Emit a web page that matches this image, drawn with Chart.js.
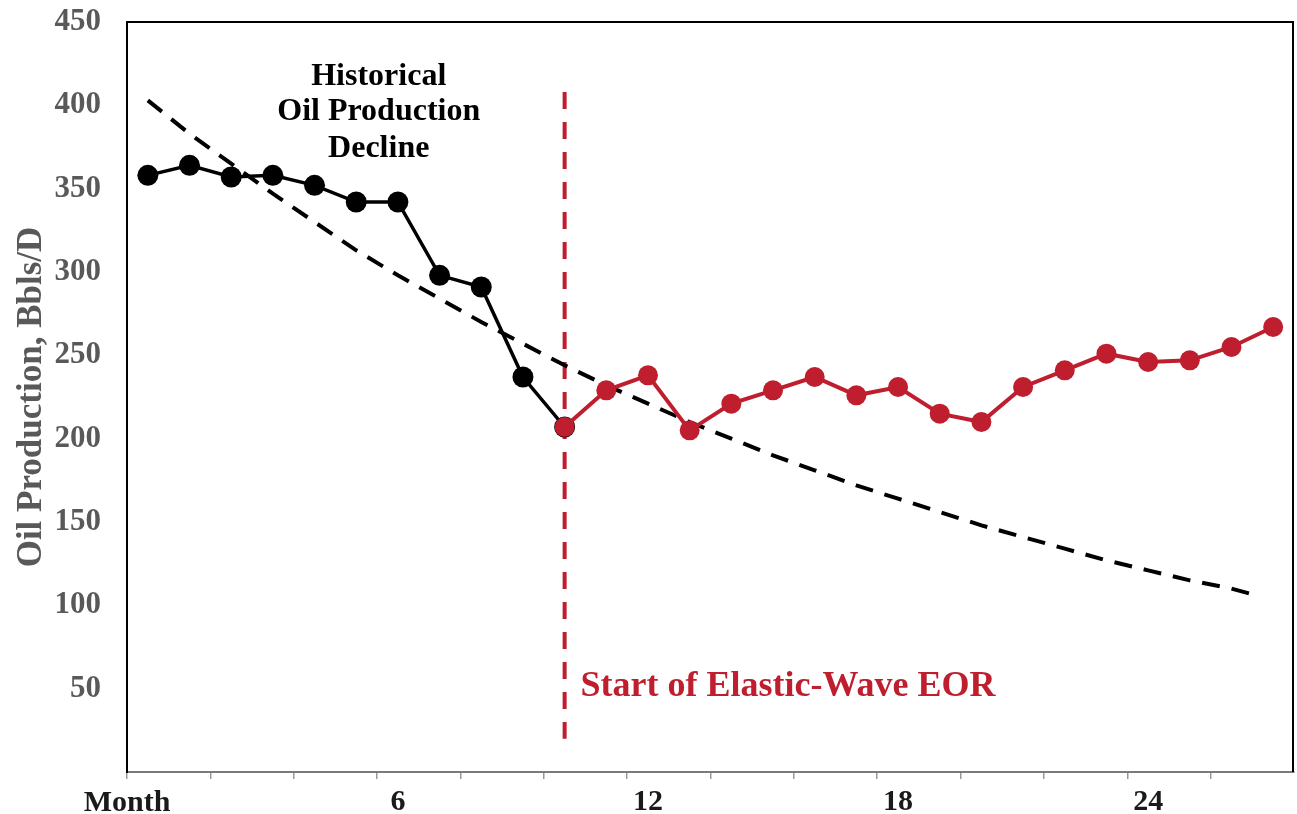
<!DOCTYPE html>
<html>
<head>
<meta charset="utf-8">
<script src="https://cdn.jsdelivr.net/npm/chart.js@4"></script>
<style>
  html, body { margin: 0; padding: 0; background: #fff; overflow: hidden; }
  canvas { display: block; }
</style>
</head>
<body>
<canvas id="oilChart" width="1297" height="814"></canvas>
<script>
// month index 0..27, only a few get a label
const monthLabels = ['', '', '', '', '', '', '6', '', '', '', '', '', '12', '', '',
    '', '', '', '18', '', '', '', '', '', '24', '', '', ''];

// historical production (month 0..10), last point is where EOR starts
const histMonths = [0, 1, 2, 3, 4, 5, 6, 7, 8, 9, 10];
const historical = [358, 364, 357, 358, 352, 342, 342, 298, 291, 237, 207];

// production after elastic-wave EOR started (month 10..27)
const eorMonths = [10, 11, 12, 13, 14, 15, 16, 17, 18, 19, 20, 21, 22, 23, 24, 25, 26, 27];
const eorValues = [207, 229, 238, 205, 221, 229, 237, 226, 231, 215, 210, 231, 241, 251, 246, 247, 255, 267];

// decline trend
const trendMonths = [0, 1, 2, 3, 4, 5, 6, 7, 8, 9, 10, 11, 12, 13, 14, 15, 16, 17, 18, 19, 20, 21, 22, 23, 24, 25, 26, 26.6];
const trendValues = [403, 383, 365, 347, 330, 313, 298, 284, 270, 257, 244, 232, 221, 210, 200, 190, 181, 172, 164, 156, 148, 141, 134, 127, 121, 115, 110, 106];

const eorStart = 10;
const RED = '#be1e2d';
const SERIF = '"Liberation Serif", "Times New Roman", serif';

const histPoints = histMonths.map((m, i) => ({ x: m, y: historical[i] }));
const eorPoints = eorMonths.map((m, i) => ({ x: m, y: eorValues[i] }));
const trendPoints = trendMonths.map((m, i) => ({ x: m, y: trendValues[i] }));

const decorations = {
    id: 'decorations',
    beforeDatasetsDraw(chart) {
        const { ctx, scales } = chart;
        const x = scales.xt, y = scales.y;
        ctx.save();
        // start of EOR marker
        const xs = x.getPixelForValue(eorStart);
        ctx.strokeStyle = RED;
        ctx.lineWidth = 4;
        ctx.setLineDash([17, 13]);
        ctx.beginPath();
        ctx.moveTo(xs, y.getPixelForValue(408));
        ctx.lineTo(xs, y.getPixelForValue(20));
        ctx.stroke();
        ctx.restore();
    },
    afterDraw(chart) {
        const { ctx, chartArea, scales } = chart;
        const x = scales.xt, y = scales.y;
        ctx.save();
        // frame: top, left, right black
        ctx.strokeStyle = '#000';
        ctx.lineWidth = 2;
        ctx.beginPath();
        ctx.moveTo(chartArea.left, chartArea.bottom);
        ctx.lineTo(chartArea.left, chartArea.top);
        ctx.lineTo(chartArea.right - 1, chartArea.top);
        ctx.lineTo(chartArea.right - 1, chartArea.bottom);
        ctx.stroke();

        ctx.textAlign = 'center';
        ctx.textBaseline = 'middle';
        ctx.fillStyle = '#000';
        ctx.font = 'bold 32px ' + SERIF;
        const cx = x.getPixelForValue(5.54);
        ctx.fillText('Historical', cx, y.getPixelForValue(417));
        ctx.fillText('Oil Production', cx, y.getPixelForValue(396));
        ctx.fillText('Decline', cx, y.getPixelForValue(374));

        ctx.textAlign = 'left';
        ctx.fillStyle = RED;
        ctx.font = 'bold 36px ' + SERIF;
        ctx.fillText('Start of Elastic-Wave EOR', x.getPixelForValue(10.38), y.getPixelForValue(51));

        ctx.textAlign = 'center';
        ctx.fillStyle = '#1a1a1a';
        ctx.font = 'bold 30px ' + SERIF;
        ctx.fillText('Month', chartArea.left, chartArea.bottom + 31);
        ctx.restore();
    }
};

new Chart(document.getElementById('oilChart'), {
    type: 'line',
    data: {
        labels: monthLabels,
        datasets: [
            {
                label: 'After EOR',
                data: eorPoints,
                xAxisID: 'xt',
                borderColor: RED,
                backgroundColor: RED,
                borderWidth: 4,
                pointRadius: 10,
                pointHoverRadius: 10,
                pointBorderWidth: 0,
                order: 1
            },
            {
                label: 'Historical',
                data: histPoints,
                xAxisID: 'xt',
                borderColor: '#000',
                backgroundColor: '#000',
                borderWidth: 3.5,
                pointRadius: 10.5,
                pointHoverRadius: 10.5,
                pointBorderWidth: 0,
                order: 2
            },
            {
                label: 'Decline trend',
                data: trendPoints,
                xAxisID: 'xt',
                borderColor: '#000',
                borderWidth: 4,
                borderDash: [18, 12],
                pointRadius: 0,
                order: 3
            }
        ]
    },
    options: {
        responsive: false,
        animation: false,
        devicePixelRatio: 1,
        layout: { autoPadding: false, padding: { top: 22, right: 3, left: 0, bottom: 0 } },
        plugins: {
            legend: { display: false },
            tooltip: { enabled: false }
        },
        scales: {
            x: {
                type: 'category',
                offset: true,
                grid: {
                    display: true,
                    drawOnChartArea: false,
                    offset: true,
                    tickLength: 7,
                    lineWidth: 1.5,
                    color: c => (c.index % 2 === 0 ? '#9a9a9a' : 'rgba(0,0,0,0)')
                },
                border: { display: true, color: '#7a7a7a', width: 2 },
                ticks: {
                    autoSkip: false,
                    maxRotation: 0,
                    padding: 5,
                    color: '#1a1a1a',
                    font: { family: SERIF, size: 30, weight: 'bold' }
                },
                afterFit(scale) {
                    scale.height = 42;
                    scale.paddingLeft = 0;
                    scale.paddingRight = 0;
                }
            },
            xt: {
                type: 'linear',
                display: false,
                min: -0.5,
                max: 27.5
            },
            y: {
                min: 0,
                max: 450,
                grid: { display: false, drawTicks: false },
                border: { display: true, color: '#000', width: 2 },
                ticks: {
                    stepSize: 50,
                    padding: 26,
                    color: '#595959',
                    font: { family: SERIF, size: 31, weight: 'bold' },
                    callback: v => (v === 0 ? '' : v)
                },
                title: {
                    display: true,
                    text: 'Oil Production, Bbls/D',
                    color: '#595959',
                    padding: { top: 11, bottom: 0 },
                    font: { family: SERIF, size: 35, weight: 'bold' }
                },
                afterFit(scale) {
                    scale.width = 127;
                    scale.paddingTop = 0;
                    scale.paddingBottom = 0;
                }
            }
        }
    },
    plugins: [decorations]
});
</script>
</body>
</html>
